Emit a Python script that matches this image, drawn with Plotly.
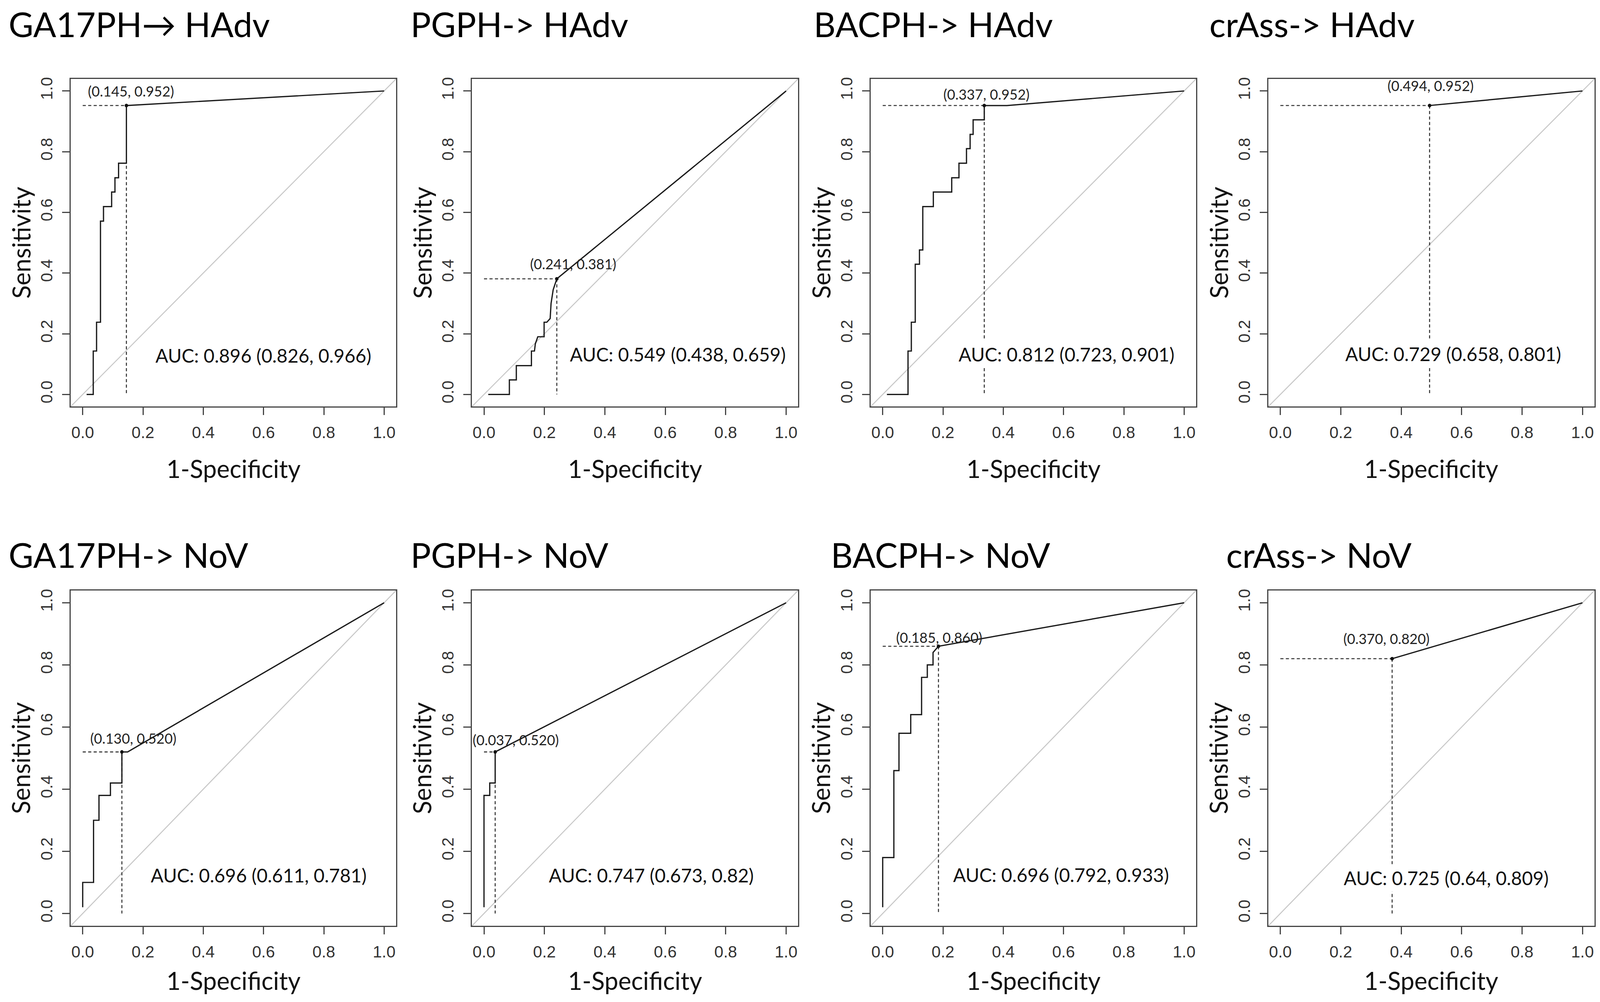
import plotly.graph_objects as go

W, H = 4394, 2564

# -- data --
TITLES = [
    "GA17PH\u2192 HAdv", "PGPH-> HAdv", "BACPH-> HAdv", "crAss-> HAdv",
    "GA17PH-> NoV", "PGPH-> NoV", "BACPH-> NoV", "crAss-> NoV",
]

# ROC curve vertices per panel: 1-specificity, sensitivity
ROC_X = [
    [0.013, 0.035, 0.035, 0.046, 0.046, 0.059, 0.059, 0.069, 0.069, 0.096, 0.096,
     0.107, 0.107, 0.119, 0.119, 0.145, 0.145, 1.0],
    [0.014, 0.084, 0.084, 0.107, 0.107, 0.157, 0.157, 0.167, 0.170, 0.178, 0.199,
     0.199, 0.208, 0.219, 0.222, 0.229, 0.241, 1.0],
    [0.014, 0.084, 0.084, 0.095, 0.095, 0.108, 0.108, 0.122, 0.122, 0.133, 0.133,
     0.168, 0.168, 0.229, 0.229, 0.253, 0.253, 0.278, 0.278, 0.290, 0.290, 0.300,
     0.300, 0.337, 0.337, 0.412, 1.0],
    [0.494, 1.0],
    [0.0, 0.0, 0.036, 0.036, 0.054, 0.054, 0.092, 0.092, 0.130, 0.130, 0.149, 1.0],
    [0.0, 0.0, 0.019, 0.019, 0.037, 0.037, 1.0],
    [0.0, 0.0, 0.037, 0.037, 0.054, 0.054, 0.093, 0.093, 0.129, 0.129, 0.148, 0.148,
     0.167, 0.167, 0.185, 1.0],
    [0.370, 1.0],
]
ROC_Y = [
    [0.0, 0.0, 0.143, 0.143, 0.238, 0.238, 0.571, 0.571, 0.619, 0.619, 0.667,
     0.667, 0.714, 0.714, 0.762, 0.762, 0.952, 1.0],
    [0.0, 0.0, 0.048, 0.048, 0.095, 0.095, 0.143, 0.143, 0.167, 0.190, 0.190,
     0.238, 0.238, 0.250, 0.300, 0.345, 0.381, 1.0],
    [0.0, 0.0, 0.143, 0.143, 0.238, 0.238, 0.429, 0.429, 0.476, 0.476, 0.619,
     0.619, 0.667, 0.667, 0.714, 0.714, 0.762, 0.762, 0.810, 0.810, 0.857, 0.857,
     0.905, 0.905, 0.952, 0.952, 1.0],
    [0.952, 1.0],
    [0.02, 0.10, 0.10, 0.30, 0.30, 0.38, 0.38, 0.42, 0.42, 0.52, 0.52, 1.0],
    [0.02, 0.38, 0.38, 0.42, 0.42, 0.52, 1.0],
    [0.02, 0.18, 0.18, 0.46, 0.46, 0.58, 0.58, 0.64, 0.64, 0.76, 0.76, 0.80,
     0.80, 0.84, 0.86, 1.0],
    [0.820, 1.0],
]

THRESH_X = [0.145, 0.241, 0.337, 0.494, 0.130, 0.037, 0.185, 0.370]
THRESH_Y = [0.952, 0.381, 0.952, 0.952, 0.520, 0.520, 0.860, 0.820]
THRESH_TEXT = [
    "(0.145, 0.952)", "(0.241, 0.381)", "(0.337, 0.952)", "(0.494, 0.952)",
    "(0.130, 0.520)", "(0.037, 0.520)", "(0.185, 0.860)", "(0.370, 0.820)",
]
AUC_TEXT = [
    "AUC: 0.896 (0.826, 0.966)", "AUC: 0.549 (0.438, 0.659)",
    "AUC: 0.812 (0.723, 0.901)", "AUC: 0.729 (0.658, 0.801)",
    "AUC: 0.696 (0.611, 0.781)", "AUC: 0.747 (0.673, 0.82)",
    "AUC: 0.696 (0.792, 0.933)", "AUC: 0.725 (0.64, 0.809)",
]
DIAG = [-0.05, 1.05]
TICKS = [0.0, 0.2, 0.4, 0.6, 0.8, 1.0]
TICK_LABELS = ["0.0", "0.2", "0.4", "0.6", "0.8", "1.0"]

# -- layout (pixels of the 4394x2564 page, turned into paper fractions) --
COL_X = [(194, 1088), (1296, 2192), (2391, 3285), (3483, 4379)]
ROW_Y = [(198, 1038), (1509, 2369)]
TITLE_X = [21, 1125, 2232, 3319, 21, 1125, 2280, 3365]
TITLE_Y = [58, 1418]
XLABEL_Y = [1196, 2508]
THRESH_POS = [(0.161, 1.0), (0.296, 0.430), (0.345, 0.990), (0.498, 1.018),
              (0.168, 0.564), (0.105, 0.559), (0.188, 0.889), (0.351, 0.885)]
AUC_POS = [(0.232, 0.129), (0.275, 0.133), (0.243, 0.132), (0.206, 0.134),
           (0.217, 0.123), (0.206, 0.123), (0.225, 0.125), (0.201, 0.115)]

SANS = "Lato, Carlito, 'Open Sans', sans-serif"
AXIS_FONT = "'Liberation Sans', Arial, sans-serif"
BOX = "#444444"

fig = go.Figure()
annotations = []

for i in range(8):
    r, c = divmod(i, 4)
    n = "" if i == 0 else str(i + 1)
    xa, ya = "x" + n, "y" + n
    x0, x1 = COL_X[c]
    y0, y1 = ROW_Y[r]

    fig.add_trace(go.Scatter(x=DIAG, y=DIAG, mode="lines", xaxis=xa, yaxis=ya,
                             line=dict(color="#c8c8c8", width=2.6), hoverinfo="skip"))
    tx, ty = THRESH_X[i], THRESH_Y[i]
    fig.add_trace(go.Scatter(x=[0, tx, None, tx, tx], y=[ty, ty, None, ty, 0],
                             mode="lines", xaxis=xa, yaxis=ya,
                             line=dict(color="#333333", width=2.6, dash="8px,6px"),
                             hoverinfo="skip"))
    fig.add_trace(go.Scatter(x=ROC_X[i], y=ROC_Y[i], mode="lines", xaxis=xa, yaxis=ya,
                             line=dict(color="#1a1a1a", width=3.2)))
    fig.add_trace(go.Scatter(x=[tx], y=[ty], mode="markers", xaxis=xa, yaxis=ya,
                             marker=dict(color="#111111", size=9)))

    axis_common = dict(
        range=[-0.04, 1.04], tickvals=TICKS, ticktext=TICK_LABELS,
        ticks="outside", ticklen=19, tickwidth=3, tickcolor=BOX,
        showline=True, mirror=True, linecolor=BOX, linewidth=3,
        showgrid=False, zeroline=False, ticklabelstandoff=8,
        tickfont=dict(family=AXIS_FONT, size=42, color="#333333"),
    )
    fig.update_layout(**{
        "xaxis" + n: dict(domain=[x0 / W, x1 / W], anchor=ya, **axis_common),
        "yaxis" + n: dict(domain=[1 - y1 / H, 1 - y0 / H], anchor=xa,
                          tickangle=-90, **axis_common),
    })

    # panel title
    annotations.append(dict(x=TITLE_X[i] / W, y=1 - TITLE_Y[r] / H, xref="paper",
                            yref="paper", text=TITLES[i], showarrow=False,
                            xanchor="left", yanchor="middle",
                            font=dict(family=SANS, size=87, color="#000000")))
    # axis titles
    annotations.append(dict(x=(x0 + x1) / 2 / W, y=1 - XLABEL_Y[r] / H, xref="paper",
                            yref="paper", text="1-Specificity", showarrow=False,
                            xanchor="center", yanchor="middle",
                            font=dict(family=SANS, size=63, color="#111111")))
    annotations.append(dict(x=(x0 - 137) / W, y=1 - (y0 + y1) / 2 / H, xref="paper",
                            yref="paper", text="Sensitivity", showarrow=False,
                            textangle=-90, xanchor="center", yanchor="middle",
                            font=dict(family=SANS, size=63, color="#111111")))
    # threshold and AUC labels
    px_, py_ = THRESH_POS[i]
    annotations.append(dict(x=px_, y=py_, xref=xa, yref=ya, text=THRESH_TEXT[i],
                            showarrow=False, xanchor="center", yanchor="middle",
                            font=dict(family=SANS, size=36, color="#222222")))
    ax_, ay_ = AUC_POS[i]
    annotations.append(dict(x=ax_, y=ay_, xref=xa, yref=ya, text=AUC_TEXT[i],
                            showarrow=False, xanchor="left", yanchor="middle",
                            bgcolor="white", borderpad=6,
                            font=dict(family=SANS, size=48, color="#111111")))

fig.update_layout(
    autosize=True,
    margin=dict(l=0, r=0, t=0, b=0),
    paper_bgcolor="white", plot_bgcolor="white",
    showlegend=False, annotations=annotations,
)

fig.write_html(
    "out.html",
    default_width="100vw",
    default_height="100vh",
    config={"responsive": True, "displayModeBar": False},
    post_script=(
        "document.body.style.margin='0';"
        "document.body.style.overflow='hidden';"
        "Plotly.Plots.resize(document.getElementById('{plot_id}'));"
    ),
)
